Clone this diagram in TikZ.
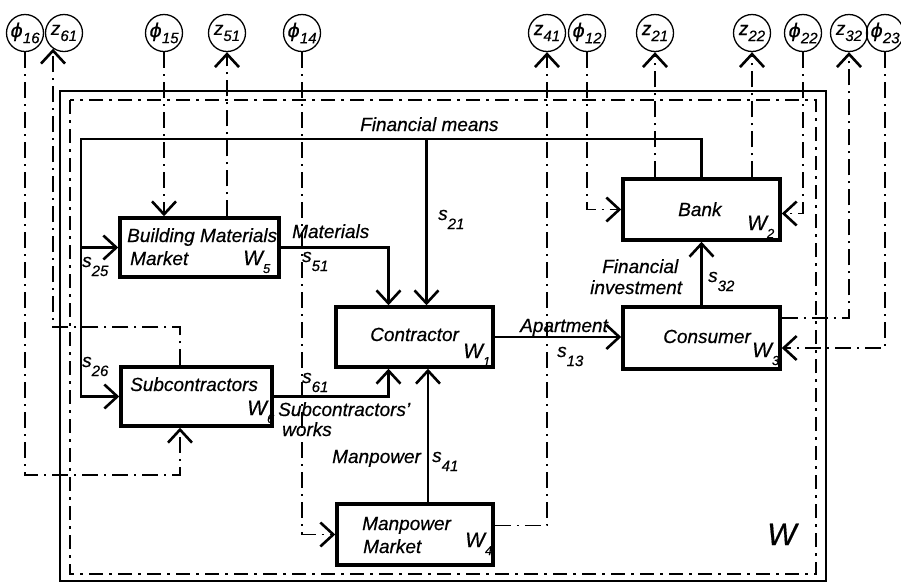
\documentclass[tikz,border=0pt]{standalone}
\usepackage{fontspec}
\setmainfont[ItalicFeatures={FakeBold=0.5}]{Liberation Sans}
\newfontfamily\grk[FakeBold=0.5]{DejaVu Sans}
\usetikzlibrary{arrows.meta}
\newcommand{\ssub}[1]{\raisebox{-9pt}{\fontsize{15}{15}\selectfont #1}}
\newcommand{\wsub}[1]{\raisebox{-8pt}{\fontsize{13}{13}\selectfont #1}}
\newcommand{\csub}[1]{\raisebox{-6pt}{\fontsize{15}{15}\selectfont #1}}
\begin{document}
\begin{tikzpicture}[x=1pt,y=-1pt,
  box/.style={draw, line width=3.5pt, inner sep=0pt},
  lbl/.style={font=\fontsize{19}{20}\selectfont\itshape, inner sep=0pt, anchor=base west},
  wl/.style={font=\fontsize{21}{21}\selectfont\itshape, inner sep=0pt, anchor=base west},
  circ/.style={circle, draw, line width=1.3pt, minimum size=37pt, inner sep=0pt, font=\fontsize{19}{19}\selectfont\itshape},
  fin/.style={line width=2.3pt},
  ext/.style={line width=1.2pt, dash pattern=on 16pt off 6pt on 2pt off 6pt},
  outer/.style={line width=1.4pt},
  inner/.style={line width=1.3pt, dash pattern=on 14pt off 6pt on 3pt off 6pt},
  >={Straight Barb[length=13pt,width=24pt,line width=2.6pt]},
]
\useasboundingbox (0,0) rectangle (901,582);
% system borders
\draw[outer] (60,91) rectangle (826,581);
\draw[inner] (70,100) rectangle (816,574);
% boxes
\node[box, minimum width=157pt, minimum height=60pt] (con) at (414.5,337) {};
\node[box, minimum width=157pt, minimum height=61pt] (bank) at (701.5,209.5) {};
\node[box, minimum width=157pt, minimum height=62pt] (cons) at (701.5,338) {};
\node[box, minimum width=156pt, minimum height=61pt] (mm) at (415,534.5) {};
\node[box, minimum width=159pt, minimum height=59pt] (bmm) at (199.5,247.5) {};
\node[box, minimum width=151pt, minimum height=59pt] (sub) at (196.5,396.5) {};
% environment circles
\node[circ] (phi16) at (25,33) {{\grk ϕ}\csub{16}};
\node[circ] (z61) at (64,33) {z\csub{61}};
\node[circ] (phi15) at (164,33) {{\grk ϕ}\csub{15}};
\node[circ] (z51) at (227,33) {z\csub{51}};
\node[circ] (phi14) at (302,33) {{\grk ϕ}\csub{14}};
\node[circ] (z41) at (547,33) {z\csub{41}};
\node[circ] (phi12) at (587,33) {{\grk ϕ}\csub{12}};
\node[circ] (z21) at (655,33) {z\csub{21}};
\node[circ] (z22) at (752,33) {z\csub{22}};
\node[circ] (phi22) at (803,33) {{\grk ϕ}\csub{22}};
\node[circ] (z32) at (849,33) {z\csub{32}};
\node[circ] (phi23) at (885,33) {{\grk ϕ}\csub{23}};
% external links
\coordinate (c16) at (180,475);
\coordinate (c61) at (180,327);
\draw[ext,->] (phi16.south) |- (c16) -- (c16 |- sub.south);
\draw[ext,->] (c61 |- sub.north) -- (c61) -- (c61 -| z61.235) -- (z61.235);
\draw[ext,->] (phi15.south) -- (phi15.south |- bmm.north);
\draw[ext,->] (bmm.north -| z51.south) -- (z51.south);
\draw[ext,->] (phi14.south) |- (mm.west);
\draw[ext,->] ([yshift=9pt]mm.east) -| (z41.south);
\draw[ext,->] (phi12.south) |- (bank.west);
\draw[ext,->] (bank.north -| z21.south) -- (z21.south);
\draw[ext,->] (bank.north -| z22.south) -- (z22.south);
\draw[ext,->] (phi22.south) |- ([yshift=-4pt]bank.east);
\draw[ext,->] ([yshift=20pt]cons.east) -| (z32.south);
\draw[ext,->] (phi23.south) |- ([yshift=-10pt]cons.east);
% internal flows
\coordinate (fmL) at (81,139);
\draw[fin,->] (bank.north) |- (fmL) |- (sub.west);
\draw[fin,->] (fmL |- bmm.west) -- (bmm.west);
\draw[fin,->] ([xshift=12pt]con.north |- fmL) -- ([xshift=12pt]con.north);
\draw[fin,->] (bmm.east) -| ([xshift=-26pt]con.north);
\draw[fin,->] (sub.east) -| ([xshift=-26pt]con.south);
\draw[fin,->] ([xshift=13pt]mm.north) -- ([xshift=13pt]mm.north |- con.south);
\draw[fin,->] (con.east) -- (con.east -| cons.west);
\draw[fin,->] (cons.north) -- (bank.south);
% labels
\node[lbl] (tfm) at (360,131) {Financial means};
\node[lbl] (ts21) at (438,220) {s\ssub{21}};
\node[lbl] (tmat) at (292,238) {Materials};
\node[lbl] (ts51) at (302,262) {s\ssub{51}};
\node[lbl] (ts25) at (82,267) {s\ssub{25}};
\node[lbl] (ts26) at (82,367) {s\ssub{26}};
\node[lbl] (ts61) at (302,383) {s\ssub{61}};
\node[lbl] (tsw1) at (278,416) {Subcontractors'};
\node[lbl] (tsw2) at (282,436) {works};
\node[lbl] (tmp) at (332,463) {Manpower};
\node[lbl] (ts41) at (432,462) {s\ssub{41}};
\node[lbl] (tcon) at (370,341) {Contractor};
\node[wl] (wcon) at (463,358) {W\wsub{1}};
\node[lbl] (tapt) at (520,332) {Apartment};
\node[lbl] (ts13) at (557,357) {s\ssub{13}};
\node[lbl] (tfi1) at (602,273) {Financial};
\node[lbl] (tfi2) at (590,294) {investment};
\node[lbl] (ts32) at (708,282) {s\ssub{32}};
\node[lbl] (tbank) at (678,216) {Bank};
\node[wl] (wbank) at (747,230) {W\wsub{2}};
\node[lbl] (tcons) at (663,343) {Consumer};
\node[wl] (wcons) at (752,357) {W\wsub{3}};
\node[lbl] (tbmm1) at (127,242) {Building Materials};
\node[lbl] (tbmm2) at (130,265) {Market};
\node[wl] (wbmm) at (243,265) {W\wsub{5}};
\node[lbl] (tsub) at (130,391) {Subcontractors};
\node[wl] (wsub) at (247,415) {W\wsub{6}};
\node[lbl] (tmm1) at (362,530) {Manpower};
\node[lbl] (tmm2) at (363,553) {Market};
\node[wl] (wmm) at (465,547) {W\wsub{4}};
\node[lbl, font=\fontsize{31}{31}\selectfont\itshape] (wbig) at (767,545) {W};
\end{tikzpicture}
\end{document}
